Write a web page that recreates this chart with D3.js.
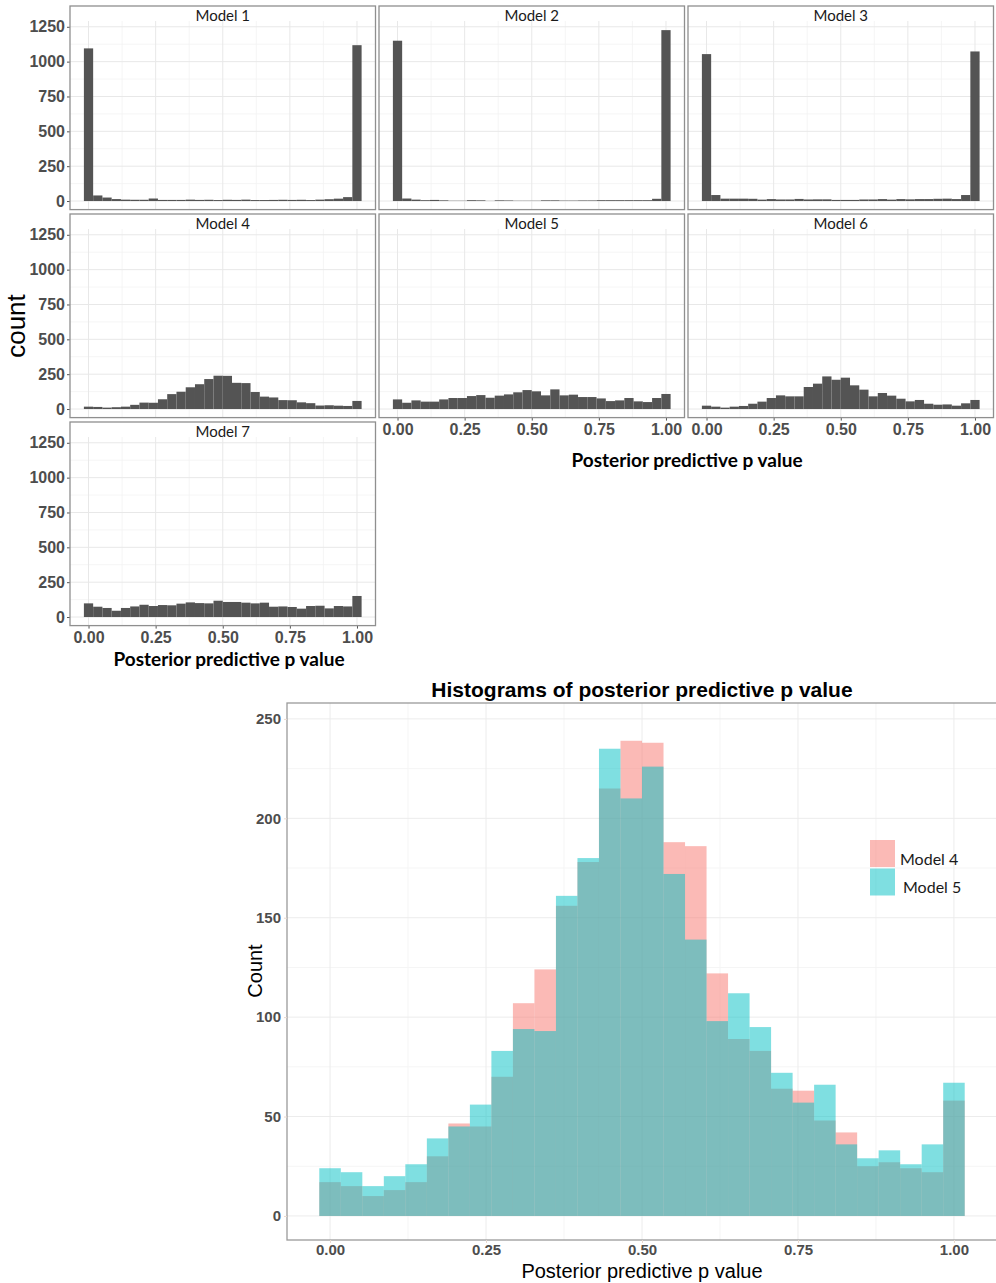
<!DOCTYPE html>
<html>
<head>
<meta charset="utf-8">
<script src="https://cdn.jsdelivr.net/npm/d3@7"></script>
<style>
  body { margin: 0; background: #fff; }
</style>
</head>
<body>
<svg></svg>
<script>
// bin layout used by ggplot's geom_histogram (30 bins, centred on 0 and 1)
const BIN_WIDTH = 1 / 29;
const BIN_START = -1 / 58;

const MODEL_NAMES = ['Model 1', 'Model 2', 'Model 3', 'Model 4', 'Model 5', 'Model 6', 'Model 7'];

const model1Counts = [1095, 40, 25, 14, 10, 9, 9, 18, 8, 8, 8, 10, 8, 9, 7, 9, 8, 10, 7, 7, 8, 9, 8, 9, 7, 10, 13, 17, 28, 1118];
const model2Counts = [1150, 18, 10, 6, 8, 5, 2, 2, 6, 5, 1, 5, 4, 2, 2, 2, 5, 5, 3, 3, 4, 4, 6, 6, 6, 6, 6, 6, 16, 1226];
const model3Counts = [1054, 43, 17, 17, 17, 16, 10, 14, 11, 11, 15, 11, 12, 12, 8, 8, 8, 11, 11, 14, 10, 14, 12, 14, 14, 16, 17, 14, 43, 1073];
const model4Counts = [17, 15, 10, 13, 17, 30, 46, 45, 70, 107, 124, 156, 178, 215, 239, 238, 188, 186, 122, 89, 83, 64, 63, 48, 42, 25, 27, 24, 22, 58];
const model5Counts = [69, 45, 62, 53, 53, 69, 79, 79, 93, 100, 81, 96, 105, 120, 136, 127, 98, 141, 98, 103, 86, 86, 76, 57, 62, 79, 55, 50, 79, 108];
const model6Counts = [24, 17, 10, 17, 22, 38, 53, 79, 98, 91, 91, 158, 182, 234, 210, 225, 170, 139, 91, 115, 96, 74, 55, 65, 38, 31, 33, 24, 41, 65];
const model7Counts = [98, 74, 65, 45, 65, 76, 88, 79, 86, 84, 96, 105, 100, 98, 117, 108, 108, 103, 98, 103, 74, 76, 72, 60, 79, 81, 62, 79, 76, 151];

// overlay chart at the bottom
const OVERLAY_NAMES = ['Model 4', 'Model 5'];
const overlayModel4 = [17, 15, 10, 13, 17, 30, 46.5, 45, 70, 107, 124, 156, 178, 215, 239, 238, 188, 186, 122, 89, 83, 64, 63, 48, 42, 25, 27, 24, 22, 58];
const overlayModel5 = [24, 22, 15, 20, 26, 39, 45, 56, 83, 94, 93, 161, 180, 235, 210, 226, 172, 139, 98, 112, 95, 72, 57, 66, 36, 29, 33, 26, 36, 67];

const FACET_Y_TICKS = [0, 250, 500, 750, 1000, 1250];
const FACET_Y_MINOR = [125, 375, 625, 875, 1125];
const X_TICKS = [0, 0.25, 0.5, 0.75, 1];
const X_MINOR = [0.125, 0.375, 0.625, 0.875];
const OVERLAY_Y_TICKS = [0, 50, 100, 150, 200, 250];
const OVERLAY_Y_MINOR = [25, 75, 125, 175, 225];

const WIDTH = 996;
const HEIGHT = 1283;

const PANEL_LEFT = 70;
const PANEL_TOP = 6;
const PANEL_W = 305.5;
const COL_STEP = 309;
const ROW_STEP = 208;
const STRIP_H = 15;
const PLOT_H = 188.6;

const ARIAL = '"Liberation Sans", Arial, sans-serif';
const HUMANIST = 'Lato, "Open Sans", sans-serif';

const svg = d3.select('svg').
attr('width', WIDTH).
attr('height', HEIGHT);

const toBins = counts => counts.map((c, i) => ({
  x0: BIN_START + i * BIN_WIDTH,
  x1: BIN_START + (i + 1) * BIN_WIDTH,
  count: c }));


/* --FACETS-- */

const facetX = d3.scaleLinear().
domain([-0.069, 1.069]).
range([0, PANEL_W]);

const facetY = d3.scaleLinear().
domain([-61.5, 1291.5]).
range([PLOT_H, 0]);

const allCounts = [model1Counts, model2Counts, model3Counts, model4Counts, model5Counts, model6Counts, model7Counts];

allCounts.forEach((counts, i) => {
  const col = i % 3;
  const row = Math.floor(i / 3);
  const panelG = svg.append('g').
  attr('transform', `translate(${PANEL_LEFT + col * COL_STEP},${PANEL_TOP + row * ROW_STEP})`);

  const plotG = panelG.append('g').
  attr('transform', `translate(0,${STRIP_H})`);

  // grid
  plotG.append('g').selectAll('line').
  data(FACET_Y_MINOR).
  join('line').
  attr('x1', 0).attr('x2', PANEL_W).
  attr('y1', d => facetY(d)).attr('y2', d => facetY(d)).
  attr('stroke', '#f3f3f3').attr('stroke-width', 0.8);

  plotG.append('g').selectAll('line').
  data(X_MINOR).
  join('line').
  attr('y1', 0).attr('y2', PLOT_H).
  attr('x1', d => facetX(d)).attr('x2', d => facetX(d)).
  attr('stroke', '#f3f3f3').attr('stroke-width', 0.8);

  plotG.append('g').selectAll('line').
  data(FACET_Y_TICKS).
  join('line').
  attr('x1', 0).attr('x2', PANEL_W).
  attr('y1', d => facetY(d)).attr('y2', d => facetY(d)).
  attr('stroke', '#e8e8e8').attr('stroke-width', 1);

  plotG.append('g').selectAll('line').
  data(X_TICKS).
  join('line').
  attr('y1', 0).attr('y2', PLOT_H).
  attr('x1', d => facetX(d)).attr('x2', d => facetX(d)).
  attr('stroke', '#e8e8e8').attr('stroke-width', 1);

  plotG.append('g').selectAll('rect').
  data(toBins(counts)).
  join('rect').
  attr('x', d => facetX(d.x0)).
  attr('width', d => facetX(d.x1) - facetX(d.x0)).
  attr('y', d => facetY(d.count)).
  attr('height', d => facetY(0) - facetY(d.count)).
  attr('fill', '#545454');

  // border round strip + panel
  panelG.append('rect').
  attr('width', PANEL_W).
  attr('height', STRIP_H + PLOT_H).
  attr('fill', 'none').
  attr('stroke', '#8f8f8f').
  attr('stroke-width', 1.3);

  panelG.append('text').
  text(MODEL_NAMES[i]).
  attr('x', PANEL_W / 2).
  attr('y', 14.5).
  attr('text-anchor', 'middle').
  attr('font-family', HUMANIST).
  attr('font-size', '15px').
  attr('fill', '#1a1a1a');

  if (col === 0) {
    const yAxis = d3.axisLeft(facetY).
    tickValues(FACET_Y_TICKS).
    tickFormat(d3.format('d')).
    tickSize(3).
    tickPadding(2);
    const yG = plotG.append('g').call(yAxis);
    yG.select('.domain').remove();
    yG.selectAll('line').attr('stroke', '#555');
    yG.selectAll('text').
    attr('font-family', ARIAL).
    attr('font-size', '16px').
    attr('font-weight', 'bold').
    attr('fill', '#4d4d4d');
  }

  if (i >= 4) {
    const xAxis = d3.axisBottom(facetX).
    tickValues(X_TICKS).
    tickFormat(d3.format('.2f')).
    tickSize(3).
    tickPadding(3);
    const xG = plotG.append('g').
    attr('transform', `translate(0,${PLOT_H})`).
    call(xAxis);
    xG.select('.domain').remove();
    xG.selectAll('line').attr('stroke', '#555');
    xG.selectAll('text').
    attr('font-family', ARIAL).
    attr('font-size', '16px').
    attr('font-weight', 'bold').
    attr('fill', '#4d4d4d');
  }
});

// facet axis titles
svg.append('text').
text('count').
attr('transform', 'translate(25,326) rotate(-90)').
attr('text-anchor', 'middle').
attr('font-family', ARIAL).
attr('font-size', '26px').
attr('fill', '#000');

svg.append('text').
text('Posterior predictive p value').
attr('x', 687).
attr('y', 467).
attr('text-anchor', 'middle').
attr('font-family', HUMANIST).
attr('font-weight', 'bold').
attr('font-size', '19px').
attr('fill', '#000');

svg.append('text').
text('Posterior predictive p value').
attr('x', 229).
attr('y', 666).
attr('text-anchor', 'middle').
attr('font-family', HUMANIST).
attr('font-weight', 'bold').
attr('font-size', '19px').
attr('fill', '#000');


/* --OVERLAY HISTOGRAM-- */

const overX = d3.scaleLinear().
domain([-0.069, 1.069]).
range([287, 997]);

const overY = d3.scaleLinear().
domain([-12.1, 258]).
range([1240, 703]);

const overColor = d3.scaleOrdinal().
domain(OVERLAY_NAMES).
range(['#F8766D', '#00BFC4']);

const overG = svg.append('g');

overG.append('g').selectAll('line').
data(OVERLAY_Y_MINOR).
join('line').
attr('x1', 287).attr('x2', 997).
attr('y1', d => overY(d)).attr('y2', d => overY(d)).
attr('stroke', '#f5f5f5');

overG.append('g').selectAll('line').
data(X_MINOR).
join('line').
attr('y1', 703).attr('y2', 1240).
attr('x1', d => overX(d)).attr('x2', d => overX(d)).
attr('stroke', '#f5f5f5');

overG.append('g').selectAll('line').
data(OVERLAY_Y_TICKS).
join('line').
attr('x1', 287).attr('x2', 997).
attr('y1', d => overY(d)).attr('y2', d => overY(d)).
attr('stroke', '#ececec');

overG.append('g').selectAll('line').
data(X_TICKS).
join('line').
attr('y1', 703).attr('y2', 1240).
attr('x1', d => overX(d)).attr('x2', d => overX(d)).
attr('stroke', '#ececec');

[overlayModel4, overlayModel5].forEach((counts, k) => {
  overG.append('g').selectAll('rect').
  data(toBins(counts)).
  join('rect').
  attr('x', d => overX(d.x0)).
  attr('width', d => overX(d.x1) - overX(d.x0)).
  attr('y', d => overY(d.count)).
  attr('height', d => overY(0) - overY(d.count)).
  attr('fill', overColor(OVERLAY_NAMES[k])).
  attr('fill-opacity', 0.5);
});

overG.append('rect').
attr('x', 287).
attr('y', 703).
attr('width', 710).
attr('height', 537).
attr('fill', 'none').
attr('stroke', '#9a9a9a').
attr('stroke-width', 1.3);

const oyG = overG.append('g').
attr('transform', 'translate(287,0)').
call(d3.axisLeft(overY).
tickValues(OVERLAY_Y_TICKS).
tickSize(3).
tickPadding(3));
oyG.select('.domain').remove();
oyG.selectAll('line').attr('stroke', '#e9d9cf');
oyG.selectAll('text').
attr('font-family', ARIAL).
attr('font-size', '15px').
attr('font-weight', 'bold').
attr('fill', '#4d4d4d');

const oxG = overG.append('g').
attr('transform', 'translate(0,1240)').
call(d3.axisBottom(overX).
tickValues(X_TICKS).
tickFormat(d3.format('.2f')).
tickSize(3).
tickPadding(1));
oxG.select('.domain').remove();
oxG.selectAll('line').attr('stroke', '#e9d9cf');
oxG.selectAll('text').
attr('font-family', ARIAL).
attr('font-size', '15px').
attr('font-weight', 'bold').
attr('fill', '#4d4d4d');

svg.append('text').
text('Histograms of posterior predictive p value').
attr('x', 642).
attr('y', 697).
attr('text-anchor', 'middle').
attr('font-family', ARIAL).
attr('font-weight', 'bold').
attr('font-size', '21px').
attr('fill', '#000');

svg.append('text').
text('Count').
attr('transform', 'translate(262,971) rotate(-90)').
attr('text-anchor', 'middle').
attr('font-family', ARIAL).
attr('font-size', '20px').
attr('fill', '#000');

svg.append('text').
text('Posterior predictive p value').
attr('x', 642).
attr('y', 1277.5).
attr('text-anchor', 'middle').
attr('font-family', ARIAL).
attr('font-size', '20px').
attr('fill', '#000');

/* --LEGEND-- */

const legendG = svg.append('g').
attr('transform', 'translate(870,840)');

const legendItems = legendG.selectAll('g').
data(OVERLAY_NAMES).
join('g').
attr('transform', (d, i) => `translate(0,${i * 28.5})`);

legendItems.append('rect').
attr('width', 25).
attr('height', 27).
attr('fill', d => overColor(d)).
attr('fill-opacity', 0.5);

legendItems.append('text').
text(d => d).
attr('x', (d, i) => 30 + i * 3).
attr('y', 24.5).
attr('font-family', HUMANIST).
attr('font-size', '16px').
attr('fill', '#1a1a1a');
</script>
</body>
</html>
